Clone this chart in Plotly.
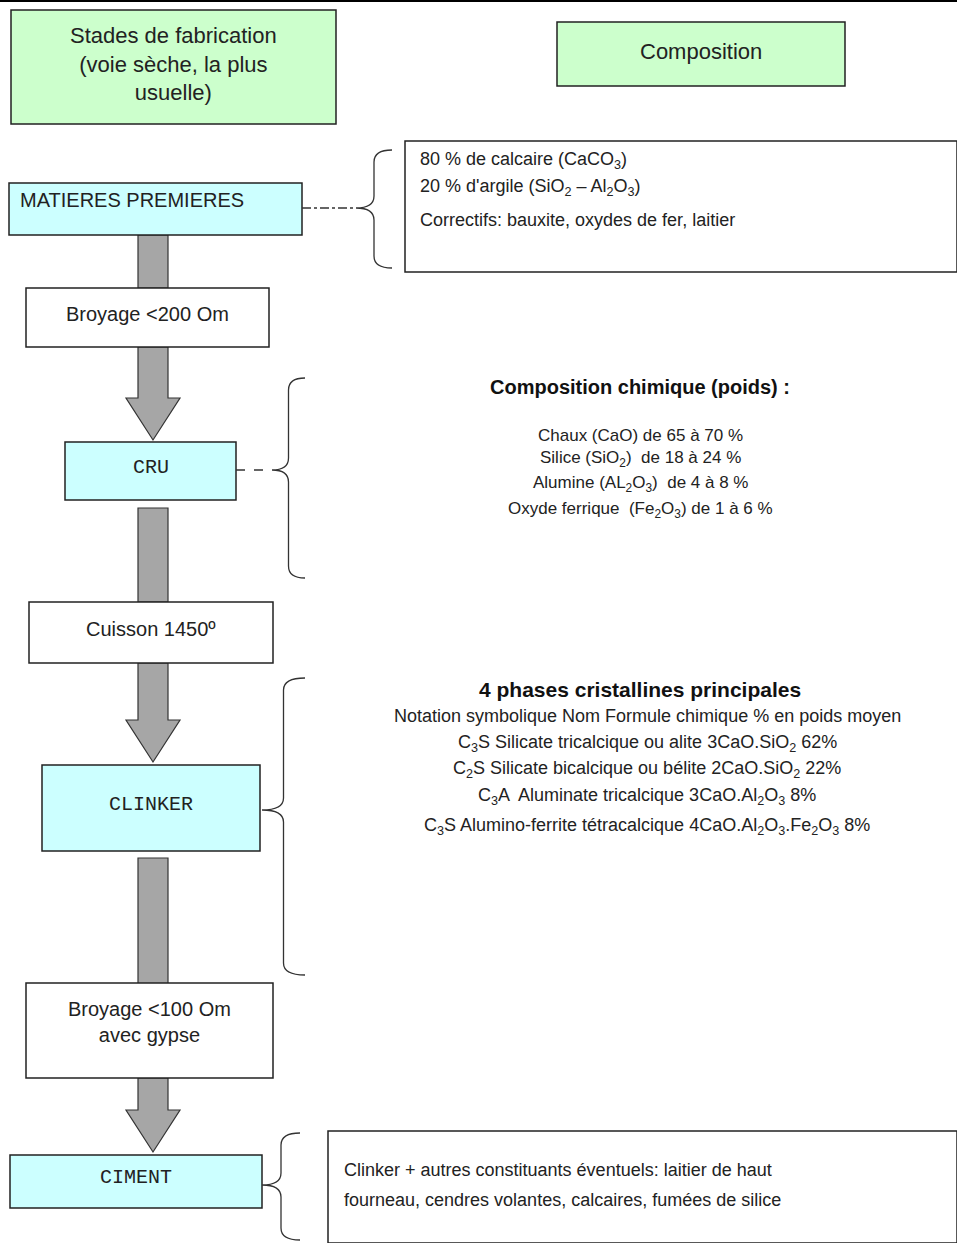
import plotly.graph_objects as go

W, H = 957, 1243
FONT = "Liberation Sans, Arial, sans-serif"
MONO = "Liberation Mono, Courier New, monospace"

stage_labels = ["MATIERES PREMIERES", "Broyage &lt;200 Om", "CRU", "Cuisson 1450º",
                "CLINKER", "Broyage &lt;100 Om<br>avec gypse", "CIMENT"]
stage_boxes = [(9, 183, 302, 235), (26, 288, 269, 347), (65, 442, 236, 500),
               (29, 602, 273, 663), (42, 765, 260, 851), (26, 983, 273, 1078),
               (10, 1155, 262, 1208)]
stage_fill = ["#ccffff", "white", "#ccffff", "white", "#ccffff", "white", "#ccffff"]
stage_font = [FONT, FONT, MONO, FONT, MONO, FONT, MONO]

header_labels = ["Stades de fabrication<br>(voie sèche, la plus<br>usuelle)", "Composition"]
header_boxes = [(11, 10, 336, 124), (557, 22, 845, 86)]

arrows = [(235, 288, False), (347, 440, True), (508, 602, False),
          (663, 762, True), (858, 985, False), (1078, 1152, True)]

braces = [(356, 392, 150, 208, 268, 302, "dashdot"), (272, 305, 378, 470, 578, 236, "dash"),
          (262, 305, 678, 810, 975, None, None), (262, 300, 1133, 1185, 1240, None, None)]

comp1 = ["80 % de calcaire (CaCO<sub>3</sub>)", "20 % d'argile (SiO<sub>2</sub> – Al<sub>2</sub>O<sub>3</sub>)",
         "Correctifs: bauxite, oxydes de fer, laitier"]
comp1_y = [160, 187, 220]
comp2_title = "<b>Composition chimique (poids) :</b>"
comp2 = ["Chaux (CaO) de 65 à 70 %", "Silice (SiO<sub>2</sub>)  de 18 à 24 %",
         "Alumine (AL<sub>2</sub>O<sub>3</sub>)  de 4 à 8 %",
         "Oxyde ferrique  (Fe<sub>2</sub>O<sub>3</sub>) de 1 à 6 %"]
comp2_y = [435, 459, 484, 510]
comp3_title = "<b>4 phases cristallines principales</b>"
comp3 = ["Notation symbolique Nom Formule chimique % en poids moyen",
         "C<sub>3</sub>S Silicate tricalcique ou alite 3CaO.SiO<sub>2</sub> 62%",
         "C<sub>2</sub>S Silicate bicalcique ou bélite 2CaO.SiO<sub>2</sub> 22%",
         "C<sub>3</sub>A  Aluminate tricalcique 3CaO.Al<sub>2</sub>O<sub>3</sub> 8%",
         "C<sub>3</sub>S Alumino-ferrite tétracalcique 4CaO.Al<sub>2</sub>O<sub>3</sub>.Fe<sub>2</sub>O<sub>3</sub> 8%"]
comp3_y = [716, 743, 769, 796, 826]
comp4 = ["Clinker + autres constituants éventuels: laitier de haut",
         "fourneau, cendres volantes, calcaires, fumées de silice"]
comp4_y = [1170, 1200]

fig = go.Figure()
shapes, ann = [], []

shapes.append(dict(type="line", x0=0, x1=W, y0=1, y1=1, line=dict(color="black", width=2)))

for y0, y1, head in arrows:
    if head:
        yh = y1 - 42
        path = f"M138,{y0} L168,{y0} L168,{yh} L180,{yh} L153,{y1} L126,{yh} L138,{yh} Z"
    else:
        path = f"M138,{y0} L168,{y0} L168,{y1} L138,{y1} Z"
    shapes.append(dict(type="path", path=path, fillcolor="#a6a6a6", line=dict(color="#333", width=1.2)))

for (x0, y0, x1, y1) in header_boxes:
    shapes.append(dict(type="rect", x0=x0, x1=x1, y0=y0, y1=y1, fillcolor="#ccffcc", line=dict(color="#222", width=1.5)))
for lab, (x0, y0, x1, y1) in zip(header_labels, header_boxes):
    ann.append(dict(x=(x0 + x1) / 2, y=(y0 + y1) / 2 - 3, text=lab, font=dict(family=FONT, size=22, color="#222")))

for lab, (x0, y0, x1, y1), c, f in zip(stage_labels, stage_boxes, stage_fill, stage_font):
    shapes.append(dict(type="rect", x0=x0, x1=x1, y0=y0, y1=y1, fillcolor=c, line=dict(color="#222", width=1.5)))
    if lab == "MATIERES PREMIERES":
        ann.append(dict(x=x0 + 9, y=y0 + 17, text=lab, xanchor="left", font=dict(family=f, size=20, color="#222")))
    else:
        ann.append(dict(x=(x0 + x1) / 2, y=(y0 + y1) / 2 - (4 if "<br>" not in lab else 9),
                        text=lab, font=dict(family=f, size=20, color="#222")))

for xl, xr, top, tip, bot, cx, dash in braces:
    xm = (xl + xr) / 2
    r = 12
    path = (f"M{xr},{top} Q{xm},{top} {xm},{top + r} L{xm},{tip - r} Q{xm},{tip} {xl},{tip} "
            f"Q{xm},{tip} {xm},{tip + r} L{xm},{bot - r} Q{xm},{bot} {xr},{bot}")
    shapes.append(dict(type="path", path=path, line=dict(color="#333", width=1.3)))
    if cx is not None:
        shapes.append(dict(type="line", x0=cx, x1=xl, y0=tip, y1=tip, line=dict(color="#333", width=1.3, dash=dash)))

shapes.append(dict(type="rect", x0=405, x1=957, y0=141, y1=272, fillcolor="white", line=dict(color="#222", width=1.5)))
shapes.append(dict(type="rect", x0=328, x1=957, y0=1131, y1=1243, fillcolor="white", line=dict(color="#222", width=1.5)))

for t, y in zip(comp1, comp1_y):
    ann.append(dict(x=418, y=y, text=t, xanchor="left", font=dict(family=FONT, size=18, color="#222")))
ann.append(dict(x=640, y=387, text=comp2_title, font=dict(family=FONT, size=20, color="#111")))
for t, y in zip(comp2, comp2_y):
    ann.append(dict(x=640, y=y, text=t, font=dict(family=FONT, size=17, color="#222")))
ann.append(dict(x=640, y=689, text=comp3_title, font=dict(family=FONT, size=21, color="#111")))
for t, y in zip(comp3, comp3_y):
    ann.append(dict(x=647, y=y, text=t, font=dict(family=FONT, size=18, color="#222")))
for t, y in zip(comp4, comp4_y):
    ann.append(dict(x=342, y=y, text=t, xanchor="left", font=dict(family=FONT, size=18, color="#222")))

for a in ann:
    a.setdefault("xanchor", "center")
    a.update(xref="x", yref="y", showarrow=False, yanchor="middle")

fig.update_layout(width=W, height=H, margin=dict(l=0, r=0, t=0, b=0),
                  paper_bgcolor="white", plot_bgcolor="white",
                  xaxis=dict(range=[0, W], visible=False, fixedrange=True),
                  yaxis=dict(range=[H, 0], visible=False, fixedrange=True),
                  shapes=shapes, annotations=ann, showlegend=False)
fig.write_html("out.html", config={"displayModeBar": False},
               post_script="document.body.style.margin='0';document.body.style.overflow='hidden';")
